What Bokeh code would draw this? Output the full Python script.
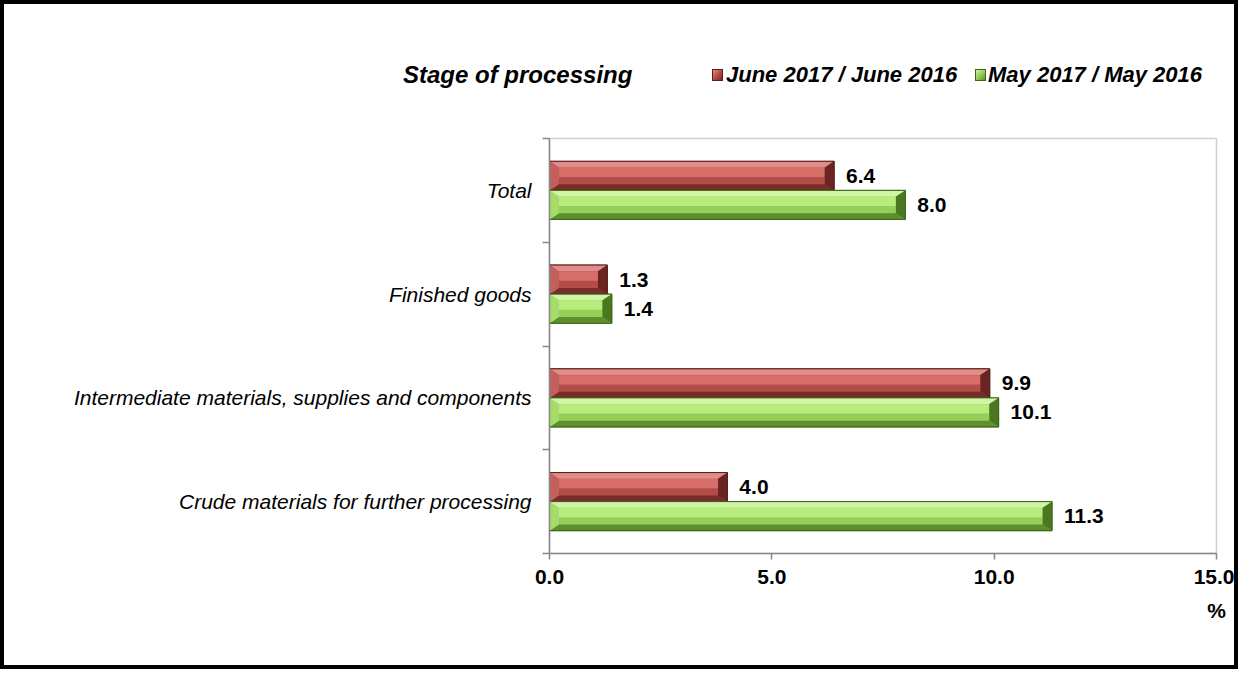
import numpy as np
from bokeh.plotting import figure
from bokeh.layouts import column
from bokeh.models import (Range1d, FixedTicker, LinearAxis, ColumnDataSource,
                          Div)
from bokeh.embed import file_html
from bokeh.resources import INLINE

# ---- data ----
categories = ["Crude materials for further processing",
              "Intermediate materials, supplies and components",
              "Finished goods",
              "Total"]
june_vals = [4.0, 9.9, 1.3, 6.4]      # June 2017 / June 2016
may_vals = [11.3, 10.1, 1.4, 8.0]     # May 2017 / May 2016
series_names = ["June 2017 / June 2016", "May 2017 / May 2016"]
x_ticks = [0, 5, 10, 15]
x_tick_labels = ["0.0", "5.0", "10.0", "15.0"]
legend_title = "Stage of processing"
unit_label = "%"

FONT = "Liberation Sans"
BW = 4
W, H = 1238 - 2 * BW, 669 - 2 * BW
HEAD = 132
MH = H - HEAD

styles = {
    0: dict(face_hi="#d86e6a", face="#b34c48", top="#e08c88", bot="#7a2c2a",
            left="#c4605c", right="#6a2422", outline="#5a1e1c"),
    1: dict(face_hi="#b8ec7c", face="#96cf57", top="#d2f4a6", bot="#5e8f2e",
            left="#a6dc6a", right="#4a7820", outline="#3c6518"),
}

# ---------------- header: legend heading + legend entries ----------------
swatch_x = [708, 971]
text_x = [722, 984]
parts = [
    f'<span style="position:absolute;left:399px;top:57px;font-size:24px;'
    f'line-height:28px;white-space:nowrap;">{legend_title}</span>'
]
for si, name in enumerate(series_names):
    st = styles[si]
    parts.append(
        f'<span style="position:absolute;left:{swatch_x[si]}px;top:65px;'
        f'width:11px;height:12px;box-sizing:border-box;'
        f'border:1px solid {st["outline"]};'
        f'background:linear-gradient(135deg,{st["top"]} 0%,{st["face"]} 50%,'
        f'{st["bot"]} 100%);"></span>')
    parts.append(
        f'<span style="position:absolute;left:{text_x[si]}px;top:58px;'
        f'font-size:22px;line-height:26px;white-space:nowrap;">{name}</span>')
html = (f'<div style="position:relative;width:{W}px;height:{HEAD}px;'
        f'font-family:\'{FONT}\';font-weight:bold;font-style:italic;'
        f'color:black;background:white;">' + "".join(parts) + '</div>')
head = Div(text=html, width=W, height=HEAD, margin=0)

# ---------------- main chart ----------------
p = figure(width=W, height=MH, output_backend="svg", toolbar_location=None,
           x_range=Range1d(0, 15), y_range=Range1d(0, len(categories)),
           title=None,
           min_border_left=545, min_border_right=W - 1212,
           min_border_top=2, min_border_bottom=H - 549)
p.xgrid.visible = False
p.ygrid.visible = False
p.outline_line_color = "#d0d0d0"
p.outline_line_width = 1.5
p.background_fill_color = "white"
p.border_fill_color = "white"

centers = np.arange(len(categories)) + 0.5
bh = 0.28
dx = 0.21   # bevel width in x units
dy = 0.06   # bevel height in y units

for si, vals in enumerate([june_vals, may_vals]):
    st = styles[si]
    v = np.array(vals, dtype=float)
    yc = centers + (bh / 2 if si == 0 else -bh / 2)
    top = yc + bh / 2
    bot = yc - bh / 2
    p.hbar(y=yc, left=0, right=v, height=bh, fill_color=st["face"],
           line_color=st["outline"], line_width=1)
    p.hbar(y=yc + bh * 0.12, left=dx, right=v - dx, height=bh * 0.32,
           fill_color=st["face_hi"], line_color=None)
    tx, ty, bx, byy, lx, ly, rx, ry = [], [], [], [], [], [], [], []
    for vi, t, b in zip(v, top, bot):
        tx.append([0, vi, vi - dx, dx]); ty.append([t, t, t - dy, t - dy])
        bx.append([0, vi, vi - dx, dx]); byy.append([b, b, b + dy, b + dy])
        lx.append([0, dx, dx, 0]); ly.append([t, t - dy, b + dy, b])
        rx.append([vi, vi - dx, vi - dx, vi]); ry.append([t, t - dy, b + dy, b])
    p.patches(tx, ty, fill_color=st["top"], line_color=None)
    p.patches(bx, byy, fill_color=st["bot"], line_color=None)
    p.patches(lx, ly, fill_color=st["left"], line_color=None)
    p.patches(rx, ry, fill_color=st["right"], line_color=None)
    p.hbar(y=yc, left=0, right=v, height=bh, fill_color=None,
           line_color=st["outline"], line_width=1)
    src = ColumnDataSource(dict(x=v, y=yc, t=["%.1f" % a for a in v]))
    p.text(x="x", y="y", text="t", source=src, x_offset=12,
           text_baseline="middle", text_align="left",
           text_font={"value": FONT}, text_font_style="bold",
           text_font_size="21px", text_color="black")

# ---- axes ----
def style_common(ax):
    ax.major_label_text_font = FONT
    ax.major_label_text_color = "black"
    ax.axis_line_color = "#888888"
    ax.axis_line_width = 1.5

xa = p.xaxis[0]
style_common(xa)
xa.ticker = FixedTicker(ticks=x_ticks, minor_ticks=[])
xa.major_label_overrides = {t: l for t, l in zip(x_ticks, x_tick_labels)}
xa.major_label_text_font_style = "bold"
xa.major_label_text_font_size = "21px"
xa.major_label_standoff = 10
xa.major_tick_line_color = "#888888"
xa.major_tick_line_width = 1.5
xa.major_tick_out = 6
xa.major_tick_in = 0
xa.minor_tick_line_color = None

ua = LinearAxis(ticker=FixedTicker(ticks=[x_ticks[-1]], minor_ticks=[]),
                major_label_overrides={x_ticks[-1]: unit_label})
style_common(ua)
ua.axis_line_color = None
ua.major_tick_line_color = None
ua.minor_tick_line_color = None
ua.major_label_text_font_style = "bold"
ua.major_label_text_font_size = "21px"
ua.major_label_standoff = 6
p.add_layout(ua, "below")

ya = p.yaxis[0]
style_common(ya)
ya.ticker = FixedTicker(ticks=list(centers),
                        minor_ticks=list(np.arange(len(categories) + 1)))
ya.major_label_overrides = {float(c): n for c, n in zip(centers, categories)}
ya.major_label_text_font_style = "italic"
ya.major_label_text_font_size = "21px"
ya.major_label_standoff = 11
ya.major_tick_line_color = None
ya.minor_tick_line_color = "#888888"
ya.minor_tick_line_width = 1.5
ya.minor_tick_out = 7
ya.minor_tick_in = 0

layout = column(head, p, spacing=0,
                styles={"border": f"{BW}px solid black",
                        "background-color": "white"})

open("out.html", "w").write(file_html(layout, INLINE))
